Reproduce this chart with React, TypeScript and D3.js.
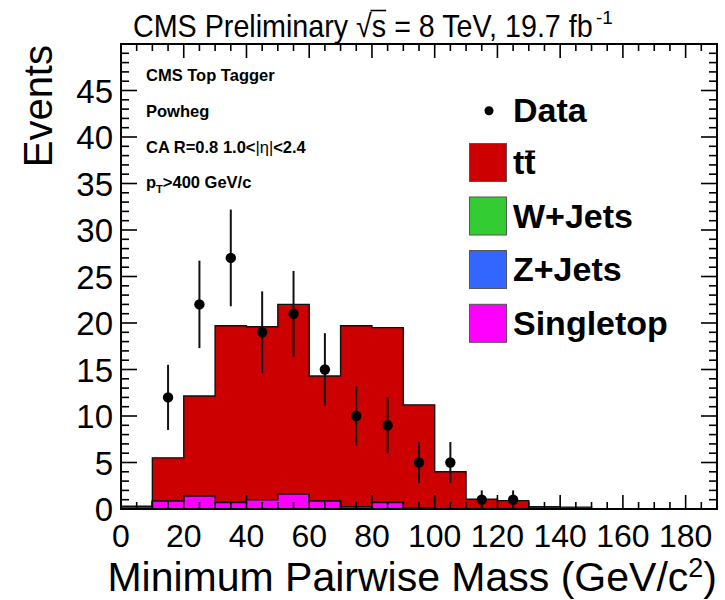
import React, { useEffect, useRef } from "react";
import * as d3 from "d3";

// Histogram binning: 19 bins of 10 GeV/c^2 from 0 to 190
const binLow = [0, 10, 20, 30, 40, 50, 60, 70, 80, 90, 100, 110, 120, 130, 140, 150, 160, 170, 180];
const binWidth = 10;

// Expected events per bin, per process
const ttbar = [0.3, 4.65, 10.75, 19.0, 18.6, 20.4, 13.45, 19.45, 18.8, 11.1, 4.0, 1.05, 0.9, 0.25, 0.2, 0, 0, 0, 0];
const wjets = [0, 0, 0, 0, 0, 0, 0, 0, 0, 0, 0, 0, 0, 0, 0, 0, 0, 0, 0];
const zjets = [0, 0, 0, 0, 0, 0, 0, 0, 0, 0, 0, 0, 0, 0, 0, 0, 0, 0, 0];
const singletop = [0, 0.85, 1.4, 0.7, 1.0, 1.6, 0.85, 0.25, 0.7, 0.1, 0, 0, 0, 0, 0, 0, 0, 0, 0];

// Observed data (bin centres), counts and statistical uncertainties
const dataMass = [15, 25, 35, 45, 55, 65, 75, 85, 95, 105, 115, 125];
const dataEvents = [12, 22, 27, 19, 21, 15, 10, 9, 5, 5, 1, 1];
const dataErr = [3.5, 4.7, 5.2, 4.4, 4.6, 3.9, 3.2, 3.0, 2.2, 2.2, 1.0, 1.0];

const xTicks = [0, 20, 40, 60, 80, 100, 120, 140, 160, 180];
const yTicks = [0, 5, 10, 15, 20, 25, 30, 35, 40, 45];

const legendLabels = ["Data", "tt", "W+Jets", "Z+Jets", "Singletop"];
const legendColors = ["#000000", "#cc0000", "#33cc33", "#3366ff", "#ff00ff"];

const FONT = "'Liberation Sans', Arial, Helvetica, sans-serif";

const W = 725;
const H = 600;
const frame = { left: 121, right: 717, top: 44, bottom: 509 };

export default function App() {
  const ref = useRef<SVGSVGElement | null>(null);

  useEffect(() => {
    const svg = d3.select(ref.current);
    svg.selectAll("*").remove();

    const x = d3.scaleLinear().domain([0, 190]).range([frame.left, frame.right]);
    const y = d3.scaleLinear().domain([0, 50]).range([frame.bottom, frame.top]);

    // cumulative stack: singletop at the bottom, then Z, W, ttbar on top
    const cumSingle = singletop.slice();
    const cumZ = cumSingle.map((v, i) => v + zjets[i]);
    const cumW = cumZ.map((v, i) => v + wjets[i]);
    const cumTT = cumW.map((v, i) => v + ttbar[i]);

    const stepPoints = (h: number[]): [number, number][] => {
      const pts: [number, number][] = [[x(binLow[0]), y(0)]];
      h.forEach((v, i) => {
        pts.push([x(binLow[i]), y(v)]);
        pts.push([x(binLow[i] + binWidth), y(v)]);
      });
      pts.push([x(binLow[binLow.length - 1] + binWidth), y(0)]);
      return pts;
    };
    const line = d3.line();

    const layers: [number[], string][] = [
      [cumTT, "#cc0000"],
      [cumW, "#33cc33"],
      [cumZ, "#3366ff"],
      [cumSingle, "#ff00ff"],
    ];
    const gHist = svg.append("g");
    layers.forEach(([h, col]) => {
      if (d3.max(h) === 0) return;
      gHist
        .append("path")
        .attr("d", line(stepPoints(h)) + "Z")
        .attr("fill", col)
        .attr("stroke", "#111")
        .attr("stroke-width", 1.4);
    });

    // frame ticks (drawn over the histograms)
    const gAx = svg.append("g").attr("stroke", "#000").attr("stroke-width", 1.6);
    d3.range(0, 191, 5).forEach((v) => {
      const major = v % 20 === 0;
      const len = major ? 14 : 7;
      gAx.append("line").attr("x1", x(v)).attr("x2", x(v)).attr("y1", frame.bottom).attr("y2", frame.bottom - len);
      gAx.append("line").attr("x1", x(v)).attr("x2", x(v)).attr("y1", frame.top).attr("y2", frame.top + len);
    });
    d3.range(0, 51, 1).forEach((v) => {
      const major = v % 5 === 0;
      const len = major ? 16 : 8;
      gAx.append("line").attr("x1", frame.left).attr("x2", frame.left + len).attr("y1", y(v)).attr("y2", y(v));
      gAx.append("line").attr("x1", frame.right).attr("x2", frame.right - len).attr("y1", y(v)).attr("y2", y(v));
    });
    svg
      .append("rect")
      .attr("x", frame.left)
      .attr("y", frame.top)
      .attr("width", frame.right - frame.left)
      .attr("height", frame.bottom - frame.top)
      .attr("fill", "none")
      .attr("stroke", "#000")
      .attr("stroke-width", 2);

    // data points with error bars
    const gData = svg.append("g");
    dataMass.forEach((m, i) => {
      gData
        .append("line")
        .attr("x1", x(m))
        .attr("x2", x(m))
        .attr("y1", y(dataEvents[i] - dataErr[i]))
        .attr("y2", y(dataEvents[i] + dataErr[i]))
        .attr("stroke", "#111")
        .attr("stroke-width", 2);
      gData.append("circle").attr("cx", x(m)).attr("cy", y(dataEvents[i])).attr("r", 5.2).attr("fill", "#000");
    });

    // tick labels
    const gLab = svg.append("g").attr("font-family", FONT).attr("font-size", 32).attr("fill", "#000");
    xTicks.forEach((v) => {
      gLab.append("text").attr("x", x(v)).attr("y", 547).attr("text-anchor", "middle").text(String(v));
    });
    yTicks.forEach((v) => {
      gLab
        .append("text")
        .attr("x", 113)
        .attr("y", y(v) + 12)
        .attr("font-size", 33)
        .attr("text-anchor", "end")
        .text(String(v));
    });

    // axis titles
    const xt = svg
      .append("text")
      .attr("x", frame.right)
      .attr("y", 591)
      .attr("text-anchor", "end")
      .attr("font-family", FONT)
      .attr("font-size", 41);
    xt.append("tspan").text("Minimum Pairwise Mass (GeV/c");
    xt.append("tspan").attr("font-size", 27).attr("dy", -14).text("2");
    xt.append("tspan").attr("dy", 14).text(")");

    svg
      .append("text")
      .attr("transform", `translate(52,45) rotate(-90)`)
      .attr("text-anchor", "end")
      .attr("font-family", FONT)
      .attr("font-size", 40)
      .text("Events");

    // header: condensed by a horizontal scale so it spans the same width
    const titleWidth = 460;
    const gTitle = svg.append("g");
    const title = gTitle
      .append("text")
      .attr("x", 0)
      .attr("y", 0)
      .attr("font-family", FONT)
      .attr("font-size", 32)
      .text("CMS Preliminary \u221As = 8 TeV, 19.7 fb");
    const tNode = title.node() as SVGTextElement;
    let natural = 520;
    try {
      natural = tNode.getComputedTextLength() || natural;
    } catch (e) {
      /* keep default */
    }
    const sx = titleWidth / natural;
    gTitle.attr("transform", `translate(133,37) scale(${sx},1)`);
    const sIdx = "CMS Preliminary \u221A".length;
    const rootIdx = sIdx - 1;
    try {
      const rr = tNode.getExtentOfChar(rootIdx);
      const sr = tNode.getExtentOfChar(sIdx);
      gTitle
        .append("line")
        .attr("x1", rr.x + rr.width - 1.5)
        .attr("x2", sr.x + sr.width)
        .attr("y1", rr.y + 3)
        .attr("y2", rr.y + 3)
        .attr("stroke", "#000")
        .attr("stroke-width", 1.6);
    } catch (e) {
      /* measurement unavailable */
    }
    svg
      .append("text")
      .attr("x", 133 + titleWidth + 3)
      .attr("y", 24)
      .attr("font-family", FONT)
      .attr("font-size", 19)
      .text("-1");

    // selection info
    const gInfo = svg.append("g").attr("font-family", FONT).attr("font-size", 16.5).attr("font-weight", "bold");
    gInfo.append("text").attr("x", 146).attr("y", 81).text("CMS Top Tagger");
    gInfo.append("text").attr("x", 146).attr("y", 117).text("Powheg");
    const eta = gInfo.append("text").attr("x", 146).attr("y", 153);
    eta.append("tspan").text("CA R=0.8 1.0<");
    eta.append("tspan").attr("font-weight", "normal").text("|\u03B7|");
    eta.append("tspan").text("<2.4");
    const pt = gInfo.append("text").attr("x", 146).attr("y", 188);
    pt.append("tspan").text("p");
    pt.append("tspan").attr("font-size", 11).attr("dy", 5).text("T");
    pt.append("tspan").attr("dy", -5).text(">400 GeV/c");

    // legend
    const gLeg = svg.append("g").attr("font-family", FONT).attr("font-weight", "bold").attr("font-size", 34);
    const legY = [110.7, 162.5, 216, 269.5, 323.3];
    legendLabels.forEach((lab, i) => {
      const cy = legY[i];
      if (i === 0) {
        gLeg.append("circle").attr("cx", 489).attr("cy", cy).attr("r", 4.5).attr("fill", "#000");
      } else {
        gLeg
          .append("rect")
          .attr("x", 469.5)
          .attr("y", cy - 19)
          .attr("width", 37)
          .attr("height", 38)
          .attr("fill", legendColors[i])
          .attr("stroke", "#555")
          .attr("stroke-width", 1);
      }
      const t = gLeg.append("text").attr("x", 513).attr("y", cy + 11.5).text(lab);
      if (i === 1) {
        try {
          const r = (t.node() as SVGTextElement).getExtentOfChar(1);
          gLeg
            .append("line")
            .attr("x1", r.x + 1)
            .attr("x2", r.x + r.width - 0.5)
            .attr("y1", cy - 11)
            .attr("y2", cy - 11)
            .attr("stroke", "#000")
            .attr("stroke-width", 2);
        } catch (e) {
          /* measurement unavailable */
        }
      }
    });
  }, []);

  return (
    <svg
      ref={ref}
      width={W}
      height={H}
      style={{ position: "absolute", left: 0, top: 0, background: "#fff" }}
    />
  );
}
